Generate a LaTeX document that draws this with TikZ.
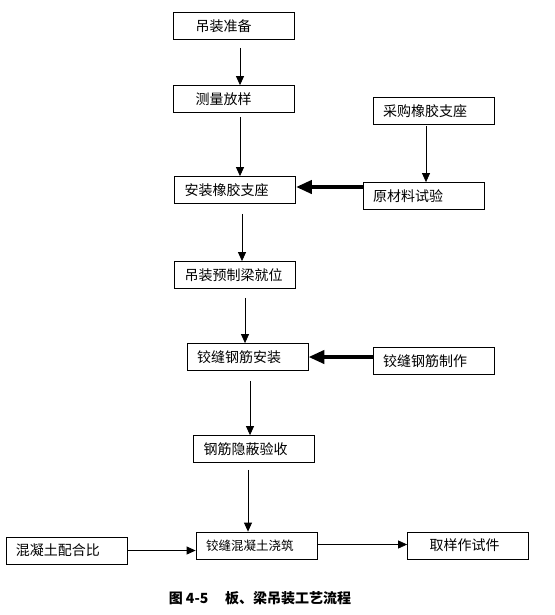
\documentclass[tikz,border=0pt]{standalone}
\usepackage{fontspec}
\setmainfont{Noto Sans CJK SC}
\usepackage{tikz}
\usetikzlibrary{arrows.meta,positioning}

\begin{document}
\begin{tikzpicture}[x=1bp, y=1bp, node distance=80bp]
        % Define styles
        \tikzset{
            phase/.style={rectangle, draw, line width=0.8bp, text width=101bp, inner xsep=10bp, align=left, minimum height=27bp, font=\fontsize{14bp}{16bp}\selectfont},
            widepad/.style={text width=77bp, inner xsep=22bp},
            arrow/.style={line width=0.8bp, -{Triangle[length=9bp, width=8bp]}},
            thickarrow/.style={line width=4bp, -{Triangle[length=16bp, width=13bp]}}
        }
        \useasboundingbox (0,0) rectangle (555,-615);

        % Create nodes
        \node [phase, widepad] (prep) at (234,-26) {吊装准备};
        \node [phase, widepad, node distance=73bp, below of=prep] (survey) {测量放样};
        \node [phase, node distance=91bp, below of=survey, xshift=1bp] (bearing) {安装橡胶支座};
        \node [phase, node distance=85bp, below of=bearing] (hoist) {吊装预制梁就位};
        \node [phase, node distance=82bp, below of=hoist, xshift=12.5bp] (rebar) {铰缝钢筋安装};
        \node [phase, node distance=92bp, below of=rebar, xshift=6.5bp] (check) {钢筋隐蔽验收};
        \node [phase, node distance=96.5bp, below of=check, xshift=2.5bp, font=\fontsize{12.5bp}{15bp}\selectfont] (pour) {铰缝混凝土浇筑};

        \node [phase, node distance=199.5bp, right of=survey, yshift=-12bp] (buy) {采购橡胶支座};
        \node [phase, node distance=85bp, below of=buy, xshift=-10bp] (test) {原材料试验};
        \node [phase, node distance=186bp, right of=rebar, yshift=-4bp] (rebarmake) {铰缝钢筋制作};
        \node [phase, widepad, node distance=211.5bp, right of=pour] (sample) {取样作试件};
        \node [phase, node distance=190bp, left of=pour, yshift=-5bp] (mix) {混凝土配合比};

        % Create arrows
        \draw [arrow] ([xshift=6bp, yshift=-8bp]prep.south) -- ([xshift=6bp]prep.south |- survey.north);
        \draw [arrow] ([xshift=6bp, yshift=-4bp]survey.south) -- ([xshift=6bp]survey.south |- bearing.north);
        \draw [arrow] ([xshift=7bp, yshift=-10bp]bearing.south) -- ([xshift=7bp]bearing.south |- hoist.north);
        \draw [arrow] ([xshift=10bp, yshift=-9bp]hoist.south) -- ([xshift=10bp]hoist.south |- rebar.north);
        \draw [arrow] ([xshift=2.5bp, yshift=-10bp]rebar.south) -- ([xshift=2.5bp]rebar.south |- check.north);
        \draw [arrow] ([xshift=-6bp, yshift=-7bp]check.south) -- ([xshift=-6bp]check.south |- pour.north);
        \draw [arrow] ([xshift=-7.5bp, yshift=-1bp]buy.south) -- ([xshift=-7.5bp]buy.south |- test.north);
        \draw [thickarrow] ([yshift=3bp]bearing.east -| test.west) -- ([yshift=3bp]bearing.east);
        \draw [thickarrow] (rebar.east -| rebarmake.west) -- (rebar.east);
        \draw [arrow] (mix.east) -- (mix.east -| pour.west);
        \draw [arrow] ([yshift=1bp]pour.east) -- ([yshift=1bp]pour.east -| sample.west);

        % Add caption
        \node [node distance=52.5bp, below of=pour, xshift=3.5bp, font=\fontsize{14bp}{16bp}\selectfont\bfseries] (caption) {图~4-5\hspace{1.2em}板、梁吊装工艺流程};
    \end{tikzpicture}
\end{document}
